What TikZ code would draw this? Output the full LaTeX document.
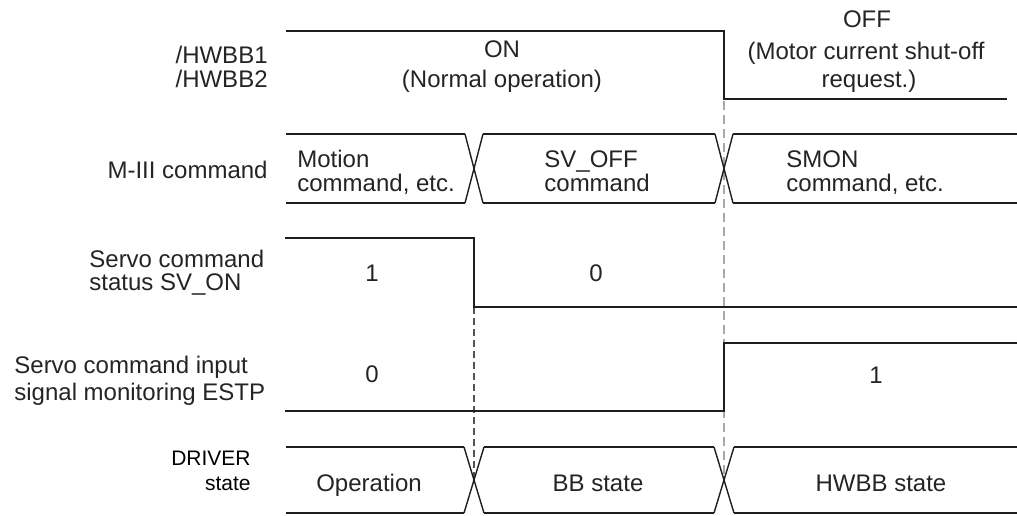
\documentclass[tikz,border=0pt]{standalone}
\usepackage{fontspec}
\setmainfont{Liberation Sans}
\definecolor{txt}{HTML}{242424}
\definecolor{wire}{HTML}{1E1E1E}
\definecolor{dashA}{HTML}{555555}
\definecolor{dashB}{HTML}{A8A8A8}
\begin{document}
\begin{tikzpicture}[x=0.5pt,y=-0.5pt,
  sig/.style={line width=1.3pt, draw=wire, line join=miter},
  diag/.style={line width=0.7pt, draw=wire},
  lbl/.style={font=\fontsize{12}{14}\selectfont, text=txt, inner sep=0pt},
  dlbl/.style={font=\fontsize{10.5}{12}\selectfont, text=black, inner sep=0pt},
  guideA/.style={line width=0.55pt, draw=dashA, dash pattern=on 3.5pt off 2pt},
  guideB/.style={line width=1.1pt, draw=dashB, dash pattern=on 4.5pt off 2.5pt}]
\useasboundingbox (0,0) rectangle (1017,515);
% guide lines
\coordinate (gA1) at (474,307);
\coordinate (gA2) at (474,480);
\coordinate (gB1) at (724,101);
\coordinate (gB2) at (724,480);
\draw[guideA] (gA1) -- (gA2);
\draw[guideB] (gB1) -- (gB2);
% /HWBB
\draw[sig] (286,31) -- (724,31) -- (724,99) -- (1007,99);
% M-III command bus
\draw[sig] (286,134) -- (465,134);
\draw[sig] (483,134) -- (715,134);
\draw[sig] (733,134) -- (1017,134);
\draw[sig] (286,203) -- (465,203);
\draw[sig] (483,203) -- (715,203);
\draw[sig] (733,203) -- (1017,203);
\draw[diag] (465,134) -- (483,203);
\draw[diag] (465,203) -- (483,134);
\draw[diag] (715,134) -- (733,203);
\draw[diag] (715,203) -- (733,134);
% SV_ON
\draw[sig] (285,238) -- (474,238) -- (474,307) -- (1017,307);
% ESTP
\draw[sig] (285,411) -- (724,411) -- (724,343) -- (1017,343);
% DRIVER state bus
\draw[sig] (286,447) -- (464,447);
\draw[sig] (484,447) -- (714,447);
\draw[sig] (734,447) -- (1017,447);
\draw[sig] (286,513) -- (464,513);
\draw[sig] (484,513) -- (714,513);
\draw[sig] (734,513) -- (1017,513);
\draw[diag] (464,447) -- (484,513);
\draw[diag] (464,513) -- (484,447);
\draw[diag] (714,447) -- (734,513);
\draw[diag] (714,513) -- (734,447);
% labels
\node[lbl,anchor=base east] (h1) at (268,63) {/HWBB1};
\node[lbl,anchor=base east] (h2) at (268,87) {/HWBB2};
\node[lbl,anchor=base] (on) at (502,57) {ON};
\node[lbl,anchor=base] (onb) at (502,87) {(Normal operation)};
\node[lbl,anchor=base] (off) at (867,27) {OFF};
\node[lbl,anchor=base] (offb) at (866,59) {(Motor current shut-off};
\node[lbl,anchor=base] (offc) at (869,87) {request.)};
\node[lbl,anchor=base east] (m3) at (268,178) {M-III command};
\node[lbl,anchor=base west] (mo1) at (297,167) {Motion};
\node[lbl,anchor=base west] (mo2) at (297,191) {command, etc.};
\node[lbl,anchor=base west] (sv1) at (544,167) {SV\_OFF};
\node[lbl,anchor=base west] (sv2) at (544,191) {command};
\node[lbl,anchor=base west] (sm1) at (786,167) {SMON};
\node[lbl,anchor=base west] (sm2) at (786,191) {command, etc.};
\node[lbl,anchor=base west] (so1) at (89,267) {Servo command};
\node[lbl,anchor=base west] (so2) at (89,290) {status SV\_ON};
\node[lbl,anchor=base] (so1v) at (372,281) {1};
\node[lbl,anchor=base] (so0v) at (596,281) {0};
\node[lbl,anchor=base west] (es1) at (14,373) {Servo command input};
\node[lbl,anchor=base west] (es2) at (14,400) {signal monitoring ESTP};
\node[lbl,anchor=base] (es0v) at (372,382) {0};
\node[lbl,anchor=base] (es1v) at (876,383) {1};
\node[dlbl,anchor=base east] (dr1) at (251,465) {DRIVER};
\node[dlbl,anchor=base east] (dr2) at (251,490) {state};
\node[lbl,anchor=base] (op) at (369,491) {Operation};
\node[lbl,anchor=base] (bb) at (598,491) {BB state};
\node[lbl,anchor=base] (hw) at (881,491) {HWBB state};
\end{tikzpicture}
\end{document}
